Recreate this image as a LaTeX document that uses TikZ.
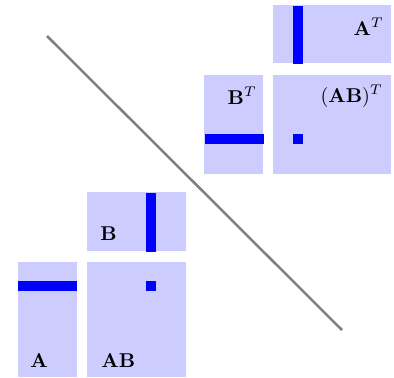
\documentclass[tikz,border=0pt]{standalone}
\usepackage{amsmath,amssymb}
\usetikzlibrary{positioning}

\tikzset{
    mat/.style={rectangle, fill=blue!20, inner sep=0pt},
    bar/.style={fill=blue},
    lbl/.style={inner sep=0pt},
}

\begin{document}
\begin{tikzpicture}[x=0.5pt,y=-0.5pt]
        \useasboundingbox (0,0) rectangle (394,377);

        % ==========================================
        % Product AB (bottom left)
        % ==========================================
        \node[mat, minimum width=29.5pt, minimum height=57.5pt] (A) at (47.5,319.5) {};
        \node[mat, minimum width=49.5pt, minimum height=57.5pt, right=4.5pt of A] (AB) {};
        \node[mat, minimum width=49.5pt, minimum height=29.5pt, above=5pt of AB] (B) {};

        % Row, column and entry
        \fill[bar] (18,281) rectangle (77,291);
        \fill[bar] (146,193) rectangle (156,252);
        \fill[bar] (146,281) rectangle (156,291);

        % Labels
        \node[lbl, anchor=base west] (Alab) at (30,367) {$\mathbf{A}$};
        \node[lbl, anchor=base west] (ABlab) at (101,367) {$\mathbf{AB}$};
        \node[lbl, anchor=base west] (Blab) at (100,240) {$\mathbf{B}$};

        % ==========================================
        % Transpose (top right)
        % ==========================================
        \node[mat, minimum width=59pt, minimum height=49.5pt] (ABT) at (332,124.5) {};
        \node[mat, minimum width=29.5pt, minimum height=49.5pt, left=4.5pt of ABT] (BT) {};
        \node[mat, minimum width=59pt, minimum height=29pt, above=5.5pt of ABT] (AT) {};

        % Row, column and entry
        \fill[bar] (293,6) rectangle (303,64);
        \fill[bar] (205,134) rectangle (264,144);
        \fill[bar] (293,134) rectangle (303,144);

        % Labels
        \node[lbl, anchor=base east] (ATlab) at (384,35) {$\mathbf{A}^T$};
        \node[lbl, anchor=base east] (BTlab) at (257,104) {$\mathbf{B}^T$};
        \node[lbl, anchor=base east] (ABTlab) at (383,102) {$(\mathbf{AB})^T$};

        % ==========================================
        % Mirror line
        % ==========================================
        \coordinate (d1) at (47,36);
        \coordinate (d2) at (342,330);
        \draw[gray, line width=1.25pt] (d1) -- (d2);

\end{tikzpicture}
\end{document}
